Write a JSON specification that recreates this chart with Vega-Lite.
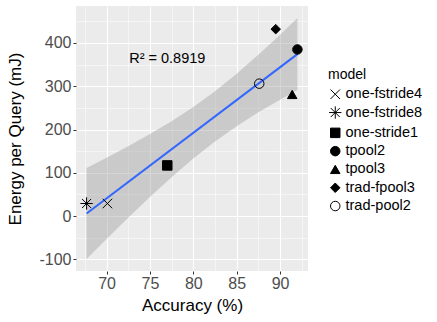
{
  "$schema": "https://vega.github.io/schema/vega-lite/v6.json",
  "width": 232,
  "height": 265,
  "autosize": "none",
  "padding": {"left": 76, "top": 6, "right": 129, "bottom": 51},
  "background": "white",
  "config": {
    "view": {"fill": "#EBEBEB", "stroke": null},
    "font": "Liberation Sans",
    "axis": {
      "labelFont": "Liberation Sans",
      "titleFont": "Liberation Sans",
      "labelFontSize": 16,
      "titleFontSize": 17,
      "labelColor": "#4D4D4D",
      "titleColor": "#000000",
      "titleFontWeight": "normal",
      "tickColor": "#333333",
      "tickSize": 3,
      "domain": false,
      "gridColor": "#FFFFFF"
    },
    "legend": {
      "labelFont": "Liberation Sans",
      "titleFont": "Liberation Sans",
      "orient": "none", "legendX": 252, "legendY": 62,
      "titleFontSize": 14, "titleFontWeight": "normal", "titleColor": "#000000", "titlePadding": 5,
      "labelFontSize": 14.5, "labelColor": "#000000", "labelOffset": 3,
      "symbolStrokeWidth": 1, "symbolSize": 90,
      "rowPadding": 3.3
    }
  },
  "datasets": {
    "points": [
      {"model": "one-fstride4", "accuracy": 70.1, "energy": 29},
      {"model": "one-fstride8", "accuracy": 67.7, "energy": 29},
      {"model": "one-stride1", "accuracy": 77.0, "energy": 117},
      {"model": "tpool2", "accuracy": 92.0, "energy": 385},
      {"model": "tpool3", "accuracy": 91.4, "energy": 281},
      {"model": "trad-fpool3", "accuracy": 89.5, "energy": 432},
      {"model": "trad-pool2", "accuracy": 87.6, "energy": 306}
    ],
    "band": [
      {"accuracy": 67.7, "lo": -99.3, "hi": 111.3},
      {"accuracy": 70.0, "lo": -53.2, "hi": 134.8},
      {"accuracy": 72.5, "lo": -3.9, "hi": 161.3},
      {"accuracy": 75.0, "lo": 44.0, "hi": 189.4},
      {"accuracy": 77.5, "lo": 89.8, "hi": 219.4},
      {"accuracy": 80.0, "lo": 132.8, "hi": 252.2},
      {"accuracy": 82.5, "lo": 172.2, "hi": 288.6},
      {"accuracy": 85.0, "lo": 207.6, "hi": 329.0},
      {"accuracy": 87.5, "lo": 239.7, "hi": 372.7},
      {"accuracy": 90.0, "lo": 269.1, "hi": 419.1},
      {"accuracy": 92.0, "lo": 291.2, "hi": 457.6}
    ],
    "annot": [
      {"accuracy": 77.0, "energy": 363, "label": "R² = 0.8919"}
    ]
  },
  "resolve": {"axis": {"x": "independent", "y": "independent"}},
  "layer": [
    {
      "data": {"name": "band"},
      "mark": {"type": "area", "fill": "#999999", "opacity": 0.4},
      "encoding": {
        "x": {
          "field": "accuracy", "type": "quantitative",
          "scale": {"domain": [66.48, 93.22], "nice": false, "zero": false},
          "axis": {"orient": "bottom", "values": [67.5, 72.5, 77.5, 82.5, 87.5, 92.5], "grid": true, "gridWidth": 0.5, "labels": false, "ticks": false, "title": null, "domain": false}
        },
        "y": {
          "field": "lo", "type": "quantitative",
          "scale": {"domain": [-127, 485.5], "nice": false, "zero": false},
          "axis": {"orient": "left", "values": [-50, 50, 150, 250, 350, 450], "grid": true, "gridWidth": 0.5, "labels": false, "ticks": false, "title": null, "domain": false}
        },
        "y2": {"field": "hi"}
      }
    },
    {
      "data": {"name": "points"},
      "transform": [{"regression": "energy", "on": "accuracy", "method": "linear"}],
      "mark": {"type": "line", "color": "#3366FF", "strokeWidth": 2},
      "encoding": {
        "x": {
          "field": "accuracy", "type": "quantitative",
          "axis": {"orient": "bottom", "values": [70, 75, 80, 85, 90], "grid": true, "gridWidth": 1.1, "title": "Accuracy (%)", "labelPadding": 1, "titleY": 39, "titleBaseline": "alphabetic"}
        },
        "y": {
          "field": "energy", "type": "quantitative",
          "axis": {"orient": "left", "values": [-100, 0, 100, 200, 300, 400], "grid": true, "gridWidth": 1.1, "title": "Energy per Query (mJ)", "labelPadding": 2, "labelExpr": "datum.value + ''", "titleX": -61, "titleBaseline": "middle"}
        }
      }
    },
    {
      "data": {"name": "points"},
      "mark": {"type": "point", "strokeWidth": 1, "opacity": 1, "size": 90},
      "encoding": {
        "x": {"field": "accuracy", "type": "quantitative", "axis": null},
        "y": {"field": "energy", "type": "quantitative", "axis": null},
        "shape": {
          "field": "model", "type": "nominal", "title": "model",
          "scale": {
            "domain": ["one-fstride4", "one-fstride8", "one-stride1", "tpool2", "tpool3", "trad-fpool3", "trad-pool2"],
            "range": ["M-1,-1L1,1M-1,1L1,-1", "M-1.3,0L1.3,0M0,-1.3L0,1.3M-0.95,-0.95L0.95,0.95M-0.95,0.95L0.95,-0.95", "square", "circle", "triangle-up", "diamond", "circle"]
          }
        },
        "fill": {
          "field": "model", "type": "nominal", "title": "model",
          "scale": {
            "domain": ["one-fstride4", "one-fstride8", "one-stride1", "tpool2", "tpool3", "trad-fpool3", "trad-pool2"],
            "range": ["transparent", "transparent", "black", "black", "black", "black", "transparent"]
          }
        },
        "stroke": {
          "field": "model", "type": "nominal", "title": "model",
          "scale": {
            "domain": ["one-fstride4", "one-fstride8", "one-stride1", "tpool2", "tpool3", "trad-fpool3", "trad-pool2"],
            "range": ["black", "black", "black", "black", "black", "black", "black"]
          }
        }
      }
    },
    {
      "data": {"name": "annot"},
      "mark": {"type": "text", "fontSize": 14.5, "color": "#000000", "baseline": "middle", "align": "center"},
      "encoding": {
        "x": {"field": "accuracy", "type": "quantitative", "axis": null},
        "y": {"field": "energy", "type": "quantitative", "axis": null},
        "text": {"field": "label"}
      }
    }
  ]
}
